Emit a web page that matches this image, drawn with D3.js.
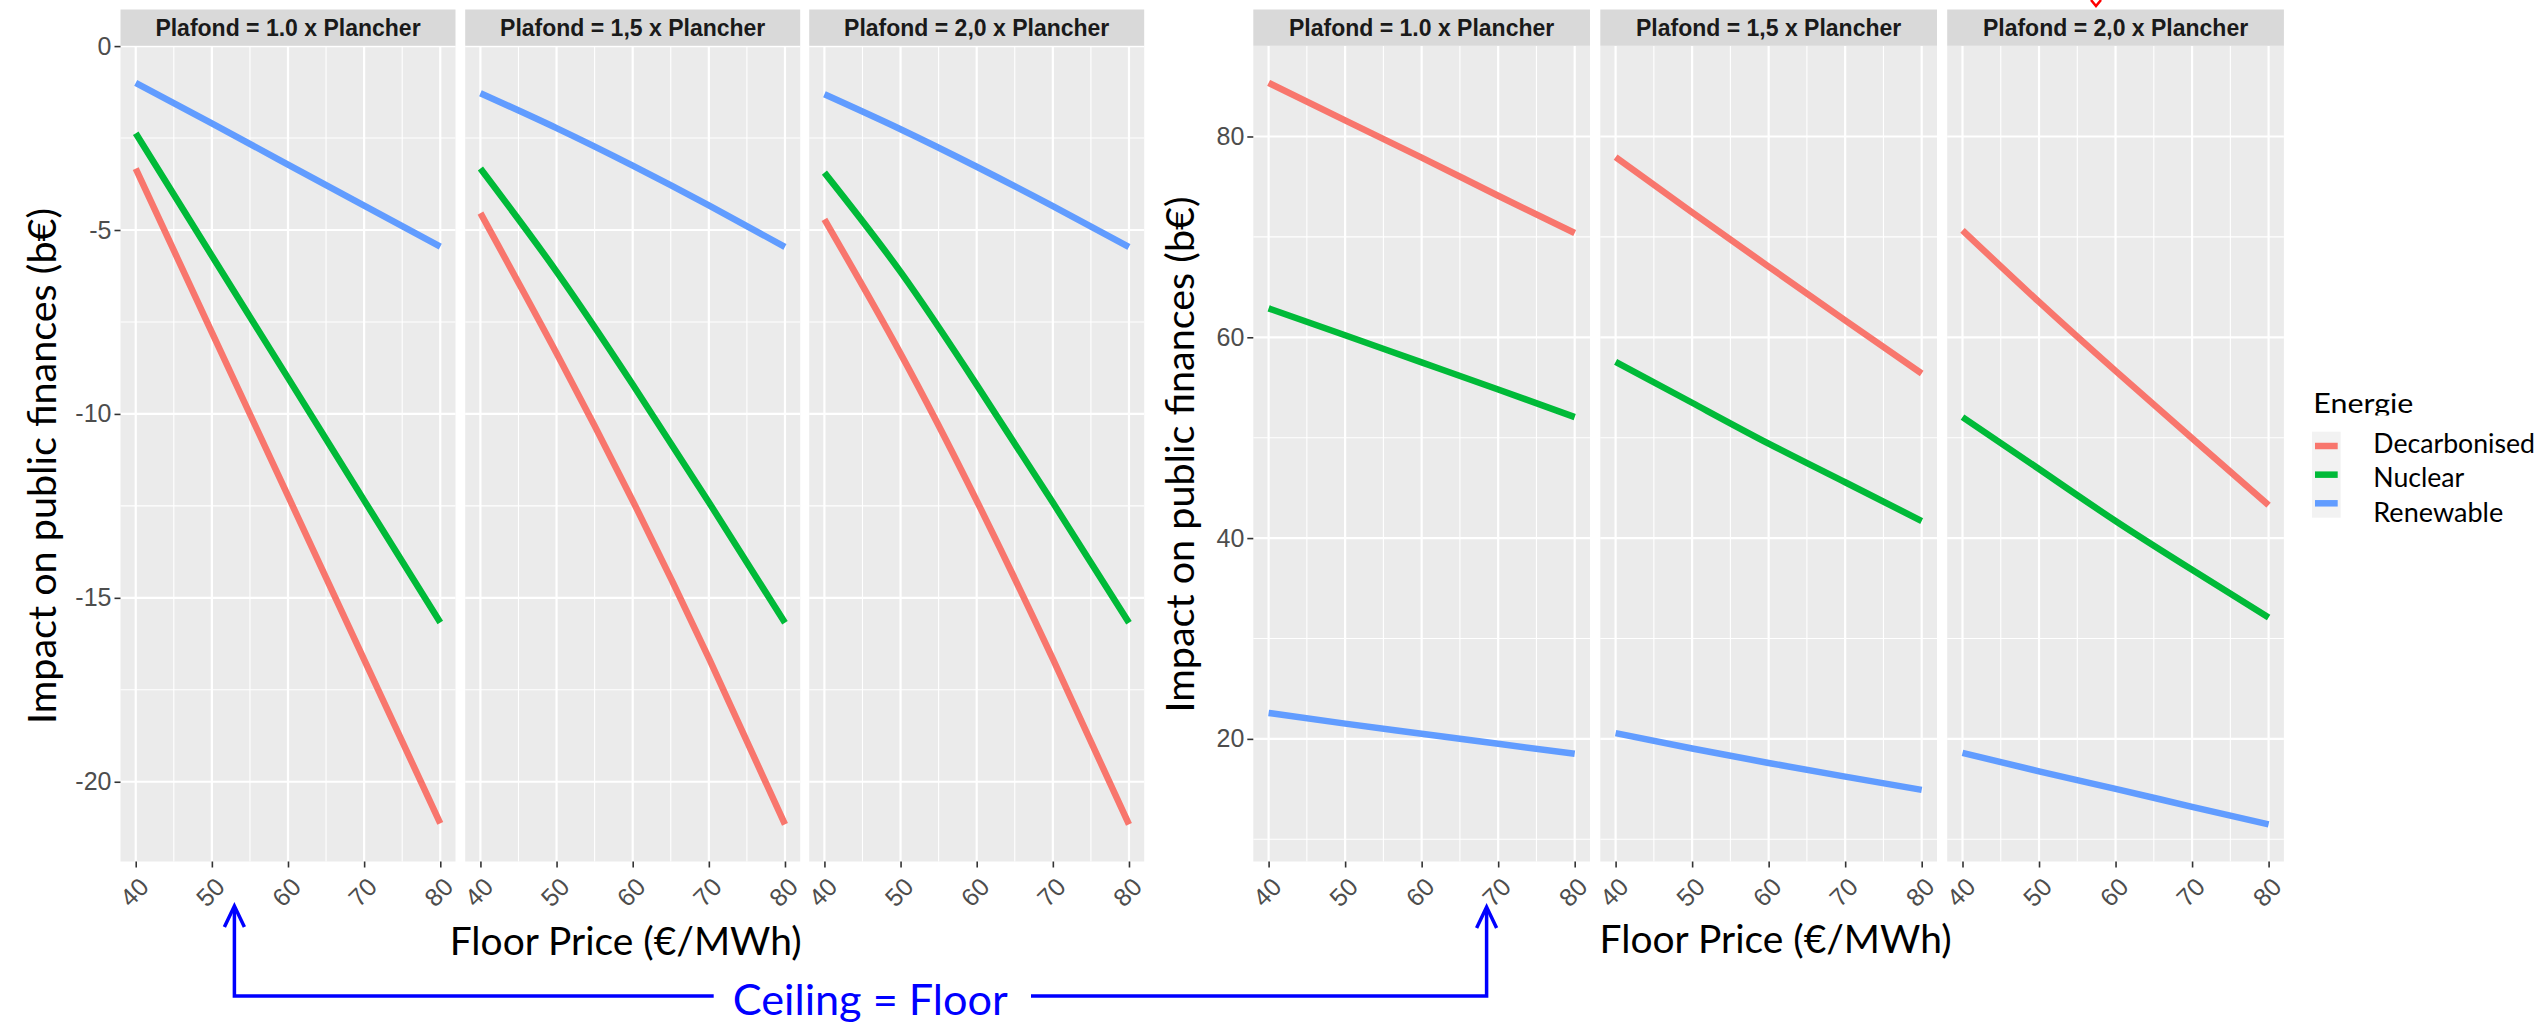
<!DOCTYPE html>
<html>
<head>
<meta charset="utf-8">
<script src="https://cdn.jsdelivr.net/npm/d3@7"></script>
<style>
  body { margin: 0; background: #fff; }
  svg { display: block; }
</style>
</head>
<body>
<svg id="chart" width="2547" height="1031"></svg>
<script>
// ---- data ---------------------------------------------------------------
const floorPrices = [40, 50, 60, 70, 80];
const energies = ["Decarbonised", "Nuclear", "Renewable"];
const energyColors = ["#F8766D", "#00BA38", "#619CFF"];
const facetLabels = ["Plafond = 1.0 x Plancher", "Plafond = 1,5 x Plancher", "Plafond = 2,0 x Plancher"];
const xTickValues = [40, 50, 60, 70, 80];
const xMinorValues = [45, 55, 65, 75];

// Left chart: impact on public finances (b€), one row per facet
const leftDecarbonised = [
  [-3.33, -7.78, -12.23, -16.68, -21.13],
  [-4.54, -8.35, -12.36, -16.64, -21.16],
  [-4.71, -8.36, -12.36, -16.66, -21.16]
];
const leftNuclear = [
  [-2.37, -5.70, -9.02, -12.35, -15.67],
  [-3.33, -6.13, -9.20, -12.40, -15.68],
  [-3.44, -6.14, -9.21, -12.41, -15.68]
];
const leftRenewable = [
  [-1.00, -2.10, -3.22, -4.34, -5.45],
  [-1.28, -2.23, -3.25, -4.33, -5.46],
  [-1.31, -2.26, -3.28, -4.35, -5.46]
];
const leftYTicks = [0, -5, -10, -15, -20];
const leftYMinor = [-2.5, -7.5, -12.5, -17.5];

// Right chart
const rightDecarbonised = [
  [85.34, 81.60, 77.90, 74.10, 70.39],
  [77.94, 72.44, 67.04, 61.69, 56.39],
  [70.65, 63.52, 56.65, 49.94, 43.28]
];
const rightNuclear = [
  [62.88, 60.20, 57.50, 54.80, 52.05],
  [57.55, 53.48, 49.41, 45.56, 41.70],
  [52.05, 46.88, 41.70, 36.84, 32.09]
];
const rightRenewable = [
  [22.58, 21.52, 20.52, 19.51, 18.51],
  [20.57, 19.04, 17.60, 16.24, 14.92],
  [18.61, 16.77, 15.02, 13.23, 11.48]
];
const rightYTicks = [20, 40, 60, 80];
const rightYMinor = [10, 30, 50, 70];

const yTitle = "Impact on public finances (b€)";
const xTitle = "Floor Price (€/MWh)";
const legendTitle = "Energie";
const annotation = "Ceiling = Floor";

// ---- drawing ------------------------------------------------------------
const svg = d3.select("#chart");
svg.append("rect").attr("width", 2547).attr("height", 1031).attr("fill", "#fff");

const TICK_FONT = "'Liberation Sans', Arial, sans-serif";
const TEXT_FONT = "Lato, 'Open Sans', sans-serif";

function expand(ext) {
  const pad = (ext[1] - ext[0]) * 0.05;
  return [ext[0] - pad, ext[1] + pad];
}

function drawFacets(cfg) {
  const series = [cfg.decarbonised, cfg.nuclear, cfg.renewable];
  const all = series.flat(2);
  const y = d3.scaleLinear().domain(expand(d3.extent(all))).range([cfg.bottom, cfg.top]);

  facetLabels.forEach((label, f) => {
    const x0 = cfg.panelX[f];
    const x = d3.scaleLinear().domain(expand([40, 80])).range([x0, x0 + cfg.panelW]);
    const g = svg.append("g");

    // panel background
    g.append("rect")
      .attr("x", x0).attr("y", cfg.top)
      .attr("width", cfg.panelW).attr("height", cfg.bottom - cfg.top)
      .attr("fill", "#EBEBEB");

    // minor grid
    g.selectAll(".ymin").data(cfg.yMinor.filter(v => v > y.domain()[0] && v < y.domain()[1]))
      .join("line")
      .attr("x1", x0).attr("x2", x0 + cfg.panelW)
      .attr("y1", d => y(d)).attr("y2", d => y(d))
      .attr("stroke", "#fff").attr("stroke-width", 1.1);
    g.selectAll(".xmin").data(xMinorValues).join("line")
      .attr("x1", d => x(d)).attr("x2", d => x(d))
      .attr("y1", cfg.top).attr("y2", cfg.bottom)
      .attr("stroke", "#fff").attr("stroke-width", 1.1);
    // major grid
    g.selectAll(".ymaj").data(cfg.yTicks).join("line")
      .attr("x1", x0).attr("x2", x0 + cfg.panelW)
      .attr("y1", d => y(d)).attr("y2", d => y(d))
      .attr("stroke", "#fff").attr("stroke-width", 2.2);
    g.selectAll(".xmaj").data(xTickValues).join("line")
      .attr("x1", d => x(d)).attr("x2", d => x(d))
      .attr("y1", cfg.top).attr("y2", cfg.bottom)
      .attr("stroke", "#fff").attr("stroke-width", 2.2);

    // strip
    g.append("rect")
      .attr("x", x0).attr("y", cfg.stripTop)
      .attr("width", cfg.panelW).attr("height", cfg.top - cfg.stripTop)
      .attr("fill", "#D9D9D9");
    g.append("text")
      .attr("x", x0 + cfg.panelW / 2).attr("y", cfg.stripTop + 26.3)
      .attr("text-anchor", "middle")
      .attr("font-family", TICK_FONT).attr("font-weight", "bold")
      .attr("font-size", 23).attr("fill", "#1A1A1A")
      .text(label);

    // smooth curves through the sampled floor prices
    const line = d3.line()
      .x((d, i) => x(floorPrices[i]))
      .y(d => y(d))
      .curve(d3.curveNatural);
    series.forEach((s, k) => {
      g.append("path")
        .attr("d", line(s[f]))
        .attr("fill", "none")
        .attr("stroke", energyColors[k])
        .attr("stroke-width", 6.5)
        .attr("stroke-linecap", "butt");
    });

    // x axis
    const xa = g.append("g")
      .attr("transform", `translate(0,${cfg.bottom})`)
      .call(d3.axisBottom(x).tickValues(xTickValues).tickSize(6).tickFormat(d => String(d)));
    xa.select(".domain").remove();
    xa.selectAll(".tick line").attr("stroke", "#333333").attr("stroke-width", 1.6);
    xa.selectAll(".tick text")
      .attr("font-family", TICK_FONT).attr("font-size", 25).attr("fill", "#4D4D4D")
      .attr("text-anchor", "end")
      .attr("y", null).attr("dy", null)
      .attr("transform", "translate(14,27) rotate(-45)");

    // y axis on the first facet only
    if (f === 0) {
      const ya = svg.append("g")
        .attr("transform", `translate(${x0},0)`)
        .call(d3.axisLeft(y).tickValues(cfg.yTicks).tickSize(6).tickPadding(3).tickFormat(d => String(d)));
      ya.select(".domain").remove();
      ya.selectAll(".tick line").attr("stroke", "#333333").attr("stroke-width", 1.6);
      ya.selectAll(".tick text")
        .attr("font-family", TICK_FONT).attr("font-size", 25).attr("fill", "#4D4D4D");
    }
  });

  // axis titles
  svg.append("text")
    .attr("transform", `translate(${cfg.yTitleX},${cfg.yTitleY}) rotate(-90)`)
    .attr("text-anchor", "middle")
    .attr("font-family", TEXT_FONT).attr("font-size", 39).attr("fill", "#000")
    .attr("textLength", 516).attr("lengthAdjust", "spacingAndGlyphs")
    .text(yTitle);
  svg.append("text")
    .attr("x", cfg.xTitleX).attr("y", cfg.xTitleY)
    .attr("font-family", TEXT_FONT).attr("font-size", 38).attr("fill", "#000")
    .attr("textLength", 352).attr("lengthAdjust", "spacingAndGlyphs")
    .text(xTitle);
}

drawFacets({
  decarbonised: leftDecarbonised, nuclear: leftNuclear, renewable: leftRenewable,
  yTicks: leftYTicks, yMinor: leftYMinor,
  panelX: [120.5, 465.2, 809.2], panelW: 335,
  stripTop: 9.5, top: 45.8, bottom: 861.5,
  yTitleX: 55.8, yTitleY: 466, xTitleX: 449.7, xTitleY: 955
});

drawFacets({
  decarbonised: rightDecarbonised, nuclear: rightNuclear, renewable: rightRenewable,
  yTicks: rightYTicks, yMinor: rightYMinor,
  panelX: [1253.3, 1600.3, 1947.2], panelW: 336.7,
  stripTop: 9.5, top: 45.8, bottom: 861.5,
  yTitleX: 1194, yTitleY: 454.5, xTitleX: 1599.6, xTitleY: 953.3
});

// ---- legend -------------------------------------------------------------
svg.append("clipPath").attr("id", "legendTitleClip")
  .append("rect").attr("x", 2300).attr("y", 380).attr("width", 160).attr("height", 35.5);
svg.append("text")
  .attr("x", 2313.3).attr("y", 413.3)
  .attr("clip-path", "url(#legendTitleClip)")
  .attr("font-family", TEXT_FONT).attr("font-size", 27).attr("fill", "#000")
  .attr("textLength", 100).attr("lengthAdjust", "spacingAndGlyphs")
  .text(legendTitle);
svg.append("rect")
  .attr("x", 2312).attr("y", 431.7).attr("width", 28.7).attr("height", 86)
  .attr("fill", "#F2F2F2");
const keyY = d3.scalePoint().domain(energies).range([446, 503.3]);
const labelY = d3.scalePoint().domain(energies).range([452.7, 521.7]);
const labelLengths = [161.7, 91, 130];
energies.forEach((e, k) => {
  svg.append("line")
    .attr("x1", 2315).attr("x2", 2337.7)
    .attr("y1", keyY(e)).attr("y2", keyY(e))
    .attr("stroke", energyColors[k]).attr("stroke-width", 6.5);
  svg.append("text")
    .attr("x", 2373.3).attr("y", labelY(e))
    .attr("font-family", TEXT_FONT).attr("font-size", 27).attr("fill", "#000")
    .attr("textLength", labelLengths[k]).attr("lengthAdjust", "spacingAndGlyphs")
    .text(e);
});

// ---- "Ceiling = Floor" connector -----------------------------------------
const blue = "#0000FF";
const conn = svg.append("g").attr("fill", "none").attr("stroke", blue).attr("stroke-width", 3.5);
conn.append("path").attr("d", "M234.4,907 V996 H713.7");
conn.append("path").attr("d", "M1031,996 H1486.6 V908");
conn.append("path").attr("d", "M224.4,927 L234.4,906 L244.4,927");
conn.append("path").attr("d", "M1476.6,928 L1486.6,907 L1496.6,928");
svg.append("text")
  .attr("x", 732.8).attr("y", 1015)
  .attr("font-family", TEXT_FONT).attr("font-size", 42).attr("fill", blue)
  .attr("textLength", 275).attr("lengthAdjust", "spacingAndGlyphs")
  .text(annotation);

// red arrow tip entering from the top edge
svg.append("path")
  .attr("d", "M2091,0 L2096,6 L2101,0")
  .attr("fill", "none").attr("stroke", "#FF0000").attr("stroke-width", 2.5);
</script>
</body>
</html>
